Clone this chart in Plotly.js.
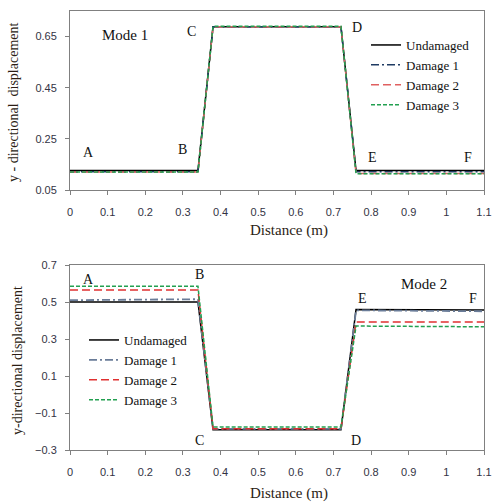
<!DOCTYPE html>
<html>
<head>
<meta charset="utf-8">
<script src="https://cdn.plot.ly/plotly-3.0.1.min.js"></script>
<style>html,body{margin:0;padding:0;background:#fff}#chart{width:492px;height:503px}</style>
</head>
<body>
<div id="chart"></div>
<script>
// Data
const distance = [0, 0.34, 0.38, 0.72, 0.76, 1.1];
const seriesNames = ["Undamaged", "Damage 1", "Damage 2", "Damage 3"];
const mode1Undamaged = [0.126, 0.126, 0.688, 0.688, 0.126, 0.126];
const mode1Damage1   = [0.121, 0.121, 0.688, 0.688, 0.121, 0.121];
const mode1Damage2   = [0.120, 0.120, 0.688, 0.688, 0.115, 0.115];
const mode1Damage3   = [0.120, 0.120, 0.690, 0.690, 0.114, 0.114];
const mode2Undamaged = [0.500, 0.500, -0.190, -0.190, 0.460, 0.457];
const mode2Damage1   = [0.510, 0.515, -0.186, -0.186, 0.455, 0.450];
const mode2Damage2   = [0.565, 0.565, -0.185, -0.185, 0.392, 0.392];
const mode2Damage3   = [0.585, 0.585, -0.175, -0.175, 0.370, 0.366];
const pointLabels = ["A", "B", "C", "D", "E", "F"];

const serif = "Liberation Serif";
const sans = "Liberation Sans";
const titleColor = "#2b1d14";

const styles1 = [
  {color: "#000000", dash: "solid", width: 1.5},
  {color: "#1f3b63", dash: "8px,3px,2px,3px", width: 1.5},
  {color: "#e06060", dash: "8px,4px", width: 1.5},
  {color: "#22a050", dash: "4px,2px", width: 1.5}
];
const styles2 = [
  {color: "#000000", dash: "solid", width: 1.5},
  {color: "#6a7c98", dash: "8px,3px,2px,3px", width: 1.8},
  {color: "#e03030", dash: "8px,4px", width: 1.5},
  {color: "#22a050", dash: "4px,2px", width: 1.5}
];

const m1 = [mode1Undamaged, mode1Damage1, mode1Damage2, mode1Damage3];
const m2 = [mode2Undamaged, mode2Damage1, mode2Damage2, mode2Damage3];
const traces = [];
m1.forEach((ys, i) => traces.push({x: distance, y: ys, name: seriesNames[i], type: "scatter", mode: "lines",
  line: styles1[i], xaxis: "x", yaxis: "y", legend: "legend"}));
m2.forEach((ys, i) => traces.push({x: distance, y: ys, name: seriesNames[i], type: "scatter", mode: "lines",
  line: styles2[i], xaxis: "x2", yaxis: "y2", legend: "legend2"}));

const axisCommon = {
  showline: true, mirror: true, linecolor: "#808080", linewidth: 1,
  showgrid: false, zeroline: false, ticks: "outside", ticklen: 4, tickcolor: "#808080",
  tickfont: {family: sans, size: 11, color: "#333344"}, fixedrange: true
};
const xCommon = Object.assign({}, axisCommon, {range: [0, 1.1], tick0: 0, dtick: 0.1, ticklabelstandoff: 8});

const ann = [];
function lab(text, x, y, xref, yref, size) {
  ann.push({text: text, x: x, y: y, xref: xref, yref: yref, showarrow: false,
    font: {family: serif, size: size || 14, color: "#111"}, xanchor: "center", yanchor: "middle"});
}
// Mode 1 point labels
const m1pos = [[0.048, 0.195], [0.30, 0.208], [0.322, 0.668], [0.762, 0.687], [0.805, 0.179], [1.057, 0.179]];
pointLabels.forEach((t, i) => lab(t, m1pos[i][0], m1pos[i][1], "x", "y", 14));
lab("Mode 1", 0.146, 0.656, "x", "y", 15);
// Mode 2 point labels
const m2pos = [[0.05, 0.624], [0.343, 0.646], [0.343, -0.251], [0.76, -0.251], [0.776, 0.52], [1.07, 0.52]];
pointLabels.forEach((t, i) => lab(t, m2pos[i][0], m2pos[i][1], "x2", "y2", 14));
lab("Mode 2", 0.94, 0.597, "x2", "y2", 15);

// Axis titles as annotations
ann.push({text: "Distance (m)", xref: "paper", yref: "paper", x: 0.53, y: (450 - 231) / 439, showarrow: false,
  font: {family: serif, size: 15, color: titleColor}, xanchor: "center", yanchor: "middle"});
ann.push({text: "Distance (m)", xref: "paper", yref: "paper", x: 0.53, y: (450 - 494) / 439, showarrow: false,
  font: {family: serif, size: 15, color: titleColor}, xanchor: "center", yanchor: "middle"});
ann.push({text: "y - directional  displacement", xref: "paper", yref: "paper", x: (13 - 70) / 414, y: (450 - 103) / 439,
  showarrow: false, textangle: -90, font: {family: serif, size: 14, color: titleColor}, xanchor: "center", yanchor: "middle"});
ann.push({text: "y-directional displacement", xref: "paper", yref: "paper", x: (17 - 70) / 414, y: (450 - 360) / 439,
  showarrow: false, textangle: -90, font: {family: serif, size: 14, color: titleColor}, xanchor: "center", yanchor: "middle"});

const legendCommon = {bgcolor: "rgba(0,0,0,0)", borderwidth: 0, font: {family: serif, size: 13, color: "#111"},
  itemwidth: 30, xanchor: "left", yanchor: "top", tracegroupgap: 0};

const layout = {
  width: 492, height: 503,
  margin: {l: 70, r: 8, t: 11, b: 53},
  paper_bgcolor: "#fff", plot_bgcolor: "#fff",
  font: {family: serif},
  showlegend: true,
  xaxis: Object.assign({}, xCommon, {domain: [0, 1], anchor: "y"}),
  yaxis: Object.assign({}, axisCommon, {domain: [(450 - 190) / 439, 1], range: [0.05, 0.75], tick0: 0.05, dtick: 0.2, anchor: "x", ticklabelstandoff: 6}),
  xaxis2: Object.assign({}, xCommon, {domain: [0, 1], anchor: "y2"}),
  yaxis2: Object.assign({}, axisCommon, {domain: [0, (450 - 265) / 439], range: [-0.3, 0.7], tick0: -0.3, dtick: 0.2, anchor: "x2", ticklabelstandoff: 6}),
  legend: Object.assign({}, legendCommon, {x: (366 - 70) / 414, y: (450 - 30) / 439}),
  legend2: Object.assign({}, legendCommon, {x: (84 - 70) / 414, y: (450 - 325) / 439}),
  annotations: ann
};

Plotly.newPlot("chart", traces, layout, {displayModeBar: false, staticPlot: true});
</script>
</body>
</html>
